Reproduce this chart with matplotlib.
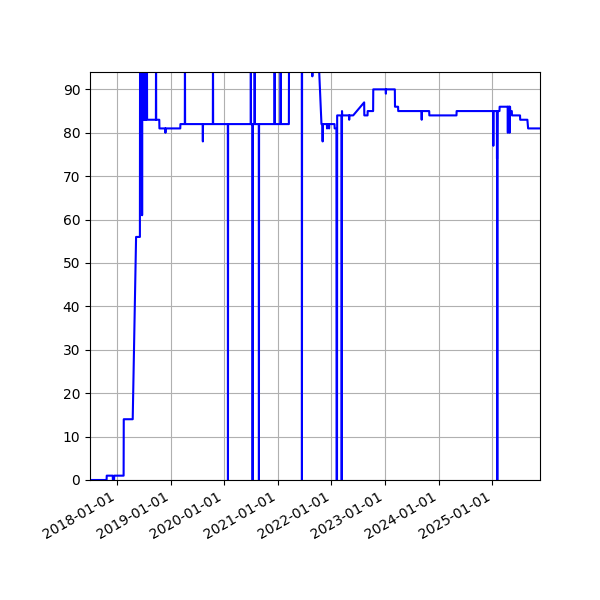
import matplotlib
matplotlib.use('Agg')
import matplotlib.pyplot as plt
import matplotlib.dates as mdates
from matplotlib.ticker import MultipleLocator
import pandas as pd

# readings (date, score); values above the axis top are clipped at 100
dates = [
    '2017-07-01', '2017-10-22', '2017-10-23', '2017-12-03', '2017-12-04', '2017-12-12', '2017-12-13',
    '2018-02-15', '2018-02-16', '2018-04-18', '2018-05-11', '2018-06-06', '2018-06-07', '2018-06-12',
    '2018-06-13', '2018-06-14', '2018-06-20', '2018-06-21', '2018-06-22', '2018-06-27', '2018-06-28',
    '2018-06-29', '2018-07-04', '2018-07-05', '2018-07-06', '2018-07-11', '2018-07-12', '2018-07-13',
    '2018-07-18', '2018-07-19', '2018-07-20', '2018-07-24', '2018-07-25', '2018-09-23', '2018-09-24',
    '2018-09-25', '2018-10-16', '2018-10-17', '2018-11-26', '2018-11-27', '2018-11-28',
    '2019-03-08', '2019-03-09', '2019-04-08', '2019-04-09', '2019-04-10', '2019-08-08', '2019-08-09',
    '2019-08-10', '2019-10-16', '2019-10-17', '2019-10-18',
    '2020-01-26', '2020-01-27', '2020-01-28', '2020-06-30', '2020-07-01', '2020-07-02', '2020-07-12',
    '2020-07-13', '2020-07-14', '2020-07-26', '2020-07-27', '2020-07-28', '2020-08-24', '2020-08-25',
    '2020-08-26', '2020-12-09', '2020-12-10', '2020-12-11',
    '2021-01-19', '2021-01-20', '2021-01-21', '2021-03-17', '2021-03-18', '2021-06-13', '2021-06-14',
    '2021-06-15', '2021-08-23', '2021-08-24', '2021-08-25', '2021-10-02', '2021-10-25', '2021-11-01',
    '2021-11-02', '2021-11-03', '2021-12-01', '2021-12-02', '2021-12-03', '2021-12-15', '2021-12-16',
    '2021-12-17',
    '2022-01-22', '2022-01-23', '2022-02-04', '2022-02-05', '2022-02-08', '2022-02-09', '2022-03-10',
    '2022-03-11', '2022-03-13', '2022-03-14', '2022-03-15', '2022-05-01', '2022-05-02', '2022-05-03',
    '2022-05-29', '2022-08-12', '2022-08-13', '2022-09-04', '2022-09-05', '2022-10-12', '2022-10-13',
    '2023-01-06', '2023-01-07', '2023-01-08', '2023-03-09', '2023-03-10', '2023-03-31', '2023-04-01',
    '2023-09-07', '2023-09-08', '2023-09-09', '2023-10-29', '2023-10-30',
    '2024-05-02', '2024-05-03',
    '2025-01-07', '2025-01-08', '2025-01-09', '2025-02-01', '2025-02-02', '2025-02-03', '2025-02-04',
    '2025-02-05', '2025-02-19', '2025-02-20', '2025-04-16', '2025-04-17', '2025-04-18', '2025-04-28',
    '2025-04-29', '2025-04-30', '2025-05-02', '2025-05-03', '2025-05-14', '2025-05-15', '2025-07-09',
    '2025-07-10', '2025-08-28', '2025-09-02', '2025-11-22',
]
values = [
    0, 0, 1, 1, 0, 0, 1,
    1, 14, 14, 56, 56, 100, 100,
    83, 100, 100, 61, 100, 100, 83,
    100, 100, 83, 100, 100, 83, 100,
    100, 83, 100, 100, 83, 83, 100,
    83, 83, 81, 81, 80, 81,
    81, 82, 82, 100, 82, 82, 78,
    82, 82, 100, 82,
    82, 0, 82, 82, 100, 82, 82,
    0, 82, 82, 100, 82, 82, 0,
    82, 82, 100, 82,
    82, 100, 82, 82, 100, 100, 0,
    100, 100, 93, 100, 100, 82, 82,
    78, 82, 82, 81, 82, 82, 81,
    82,
    82, 81, 81, 0, 0, 84, 84,
    0, 0, 85, 84, 84, 83, 84,
    84, 87, 84, 84, 85, 85, 90,
    90, 89, 90, 90, 86, 86, 85,
    85, 83, 85, 85, 84,
    84, 85,
    85, 77, 85, 85, 74, 85, 0,
    85, 85, 86, 86, 80, 86, 86,
    80, 86, 86, 85, 85, 84, 84,
    83, 83, 81, 81,
]

x = pd.to_datetime(dates)

fig, ax = plt.subplots(figsize=(6, 6), dpi=100)
ax.plot(x, values, color='blue', linewidth=1.5)
ax.set_ylim(0, 94)
ax.set_xlim(x[0], x[-1])
ax.yaxis.set_major_locator(MultipleLocator(10))
ax.xaxis.set_major_locator(mdates.YearLocator())
ax.xaxis.set_major_formatter(mdates.DateFormatter('%Y-%m-%d'))
ax.grid(True)
fig.autofmt_xdate()
fig.subplots_adjust(left=0.15, right=0.9, top=0.88, bottom=0.2)
fig.savefig('out.png')
